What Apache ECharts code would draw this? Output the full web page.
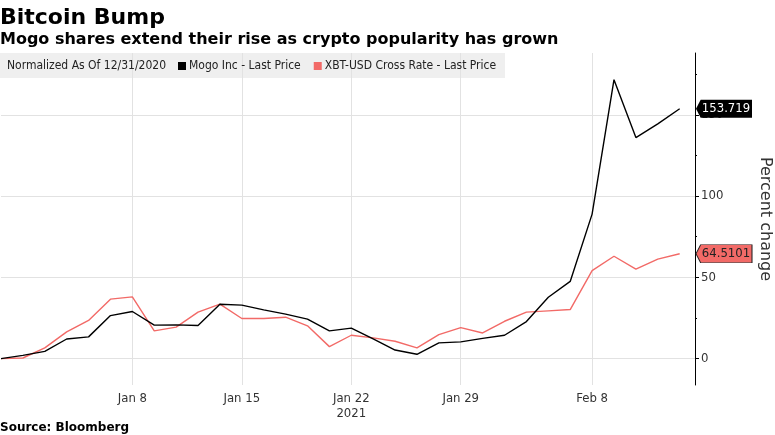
<!DOCTYPE html>
<html>
<head>
<meta charset="utf-8">
<script src="https://cdn.jsdelivr.net/npm/echarts@6/dist/echarts.min.js"></script>
<style>
  html, body { margin: 0; padding: 0; background: #fff; }
  #chart { width: 775px; height: 435px; }
</style>
</head>
<body>
<div id="chart"></div>
<script>
// ---- Data ----
var dates = ['2020-12-31','2021-01-01','2021-01-04','2021-01-05','2021-01-06','2021-01-07','2021-01-08',
  '2021-01-11','2021-01-12','2021-01-13','2021-01-14','2021-01-15',
  '2021-01-18','2021-01-19','2021-01-20','2021-01-21','2021-01-22',
  '2021-01-25','2021-01-26','2021-01-27','2021-01-28','2021-01-29',
  '2021-02-01','2021-02-02','2021-02-03','2021-02-04','2021-02-05',
  '2021-02-08','2021-02-09','2021-02-10','2021-02-11','2021-02-12'];
var mogo = [0, 2, 4.5, 12.1, 13.4, 26.5, 29, 20.6, 20.8, 20.4, 33.5, 32.9, 30, 27.4, 24.3, 17.1, 18.8,
  12.1, 5.3, 2.7, 9.7, 10.3, 12.5, 14.4, 22.8, 37.8, 47.5, 88.9, 171.6, 136, 144.4, 153.719];
var xbt = [0, 0.4, 6.6, 16.5, 23.5, 36.6, 38, 17.1, 19.4, 28.6, 33.5, 24.7, 24.7, 25.5, 20.2, 7.4, 14.4,
  12.8, 10.7, 6.6, 14.8, 19.1, 15.8, 23, 28.6, 29.4, 30.2, 54.1, 63, 55.1, 61.2, 64.5101];
var tickDates = ['2021-01-08','2021-01-15','2021-01-22','2021-01-29','2021-02-08'];
var tickLabels = ['Jan 8','Jan 15','Jan 22\n2021','Jan 29','Feb 8'];
var yLabelValues = [0, 50, 100, 150];
var yMinorValues = [25, 75, 125, 175];
var seriesNames = ['Mogo Inc - Last Price', 'XBT-USD Cross Rate - Last Price'];

// ---- Build ----
var tickIdx = tickDates.map(function (d) { return dates.indexOf(d); });
function pairs(arr) { return arr.map(function (v, i) { return [i, v]; }); }
var xMax = 31.7;
var yMin = -16.2, yMax = 188;
var BLACK = '#000000', RED = '#f26a67';
var COND = '"DejaVu Sans Condensed", "DejaVu Sans", sans-serif';

function tag(value, color, textColor) {
  return {
    coord: [xMax, value],
    value: value,
    symbol: 'path://M0,1 L1,0 L12,0 L12,2 L1,2 Z',
    symbolSize: [56, 18],
    symbolOffset: [29, 0],
    itemStyle: { color: color, borderColor: '#222', borderWidth: color === BLACK ? 0 : 0.6 },
    label: {
      show: true, position: 'inside', offset: [2, 0],
      formatter: String(value), color: textColor, fontSize: 13, fontFamily: COND
    }
  };
}

var chart = echarts.init(document.getElementById('chart'), null, { renderer: 'canvas' });
chart.setOption({
  animation: false,
  backgroundColor: '#ffffff',
  title: [
    { text: 'Bitcoin Bump', left: 0, top: 7, padding: 0,
      textStyle: { fontSize: 22, fontWeight: 'bold', color: '#000', fontFamily: '"DejaVu Sans", sans-serif' } },
    { text: 'Mogo shares extend their rise as crypto popularity has grown', left: 0, top: 32, padding: 0,
      textStyle: { fontSize: 16, fontWeight: 'bold', color: '#000', fontFamily: '"DejaVu Sans", sans-serif' } },
    { text: 'Source: Bloomberg', left: 0, top: 422, padding: 0,
      textStyle: { fontSize: 12, fontWeight: 'bold', color: '#000', fontFamily: '"DejaVu Sans", sans-serif' } }
  ],
  graphic: [
    { type: 'rect', left: 0, top: 53, shape: { width: 505, height: 25 }, z: 1, silent: true,
      style: { fill: 'rgba(225,225,225,0.55)' } },
    { type: 'text', left: 7, top: 60, z: 2, silent: true,
      style: { text: 'Normalized As Of 12/31/2020', fill: '#222', fontSize: 12, fontFamily: COND } }
  ],
  legend: {
    left: 178, top: 60, padding: 0, itemGap: 13, itemWidth: 8, itemHeight: 8, icon: 'rect',
    data: seriesNames,
    textStyle: { fontSize: 12, color: '#222', fontFamily: COND, padding: [0, 0, 0, -2] }
  },
  grid: { left: 1, right: 80, top: 53, bottom: 50, containLabel: false, outerBoundsMode: 'none' },
  xAxis: {
    type: 'value', min: 0, max: xMax,
    axisLine: { show: false, onZero: false },
    axisTick: { show: false, customValues: tickIdx },
    axisLabel: {
      customValues: tickIdx, margin: 6, color: '#333', fontSize: 13, fontFamily: COND, lineHeight: 15,
      formatter: function (v) { var k = tickIdx.indexOf(Math.round(v)); return k >= 0 ? tickLabels[k] : ''; }
    },
    splitLine: { show: true, lineStyle: { color: '#e2e2e2', width: 1 } }
  },
  yAxis: [
    {
      type: 'value', position: 'right', min: yMin, max: yMax,
      name: 'Percent change', nameLocation: 'middle', nameRotate: -90, nameGap: 62,
      nameTextStyle: { fontSize: 16, color: '#333', fontFamily: '"DejaVu Sans", sans-serif' },
      axisLine: { show: true, onZero: false, lineStyle: { color: '#000', width: 1 } },
      axisTick: { show: true, length: 4, customValues: yLabelValues, lineStyle: { color: '#000' } },
      axisLabel: { customValues: yLabelValues, margin: 6, color: '#333', fontSize: 13, fontFamily: COND },
      splitLine: { show: true, lineStyle: { color: '#e2e2e2', width: 1 } }
    },
    {
      type: 'value', position: 'right', min: yMin, max: yMax,
      axisLine: { show: false, onZero: false },
      axisTick: { show: true, length: 2, customValues: yMinorValues, lineStyle: { color: '#000' } },
      axisLabel: { show: false },
      splitLine: { show: false }
    }
  ],
  series: [
    {
      name: seriesNames[0], type: 'line', data: pairs(mogo), symbol: 'none', z: 4,
      lineStyle: { color: BLACK, width: 1.4 }, itemStyle: { color: BLACK },
      markPoint: { silent: true, data: [tag(mogo[mogo.length - 1], BLACK, '#fff')] }
    },
    {
      name: seriesNames[1], type: 'line', data: pairs(xbt), symbol: 'none', z: 3,
      lineStyle: { color: RED, width: 1.4 }, itemStyle: { color: RED },
      markPoint: { silent: true, data: [tag(xbt[xbt.length - 1], RED, '#222')] }
    }
  ]
});
</script>
</body>
</html>
